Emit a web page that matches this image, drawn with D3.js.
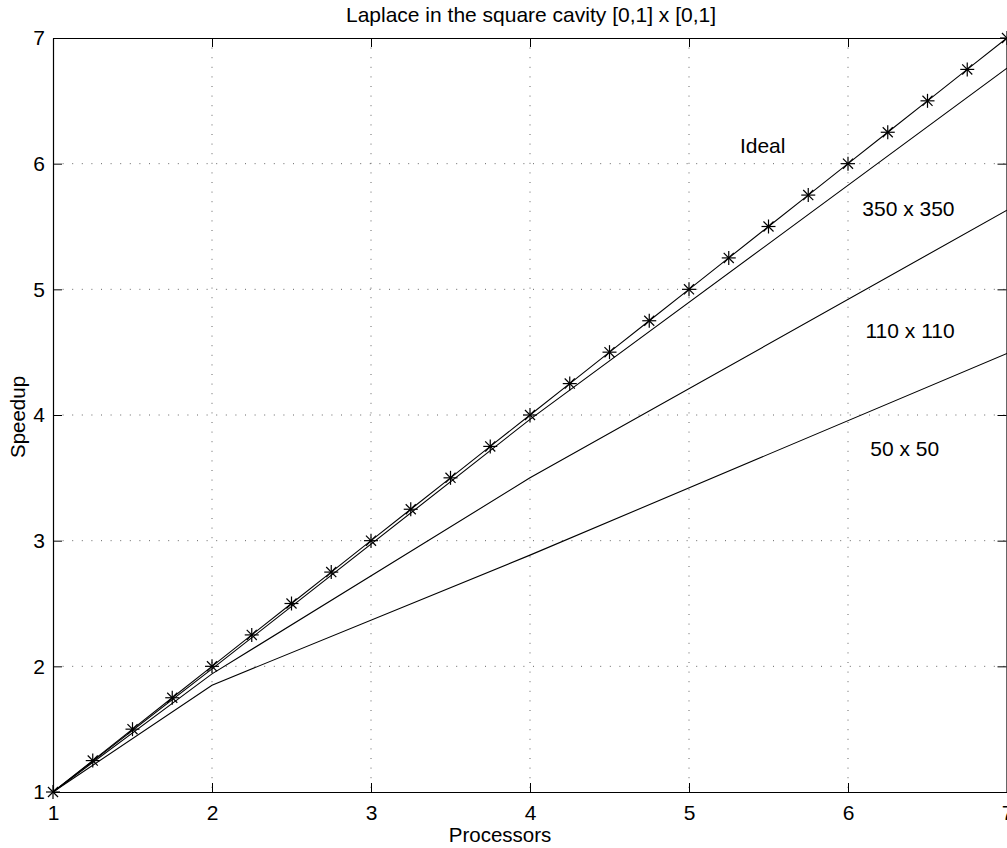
<!DOCTYPE html>
<html>
<head>
<meta charset="utf-8">
<script src="https://cdn.jsdelivr.net/npm/d3@7"></script>
<style>
  html, body { margin: 0; padding: 0; background: #fff; }
  svg text { font-family: "Liberation Sans", Arial, Helvetica, sans-serif; fill: #000; }
</style>
</head>
<body>
<svg id="chart" width="1007" height="848"></svg>
<script>
// ---- data ----
const title = "Laplace in the square cavity [0,1] x [0,1]";
const xLabel = "Processors";
const yLabel = "Speedup";
const xTicks = [1, 2, 3, 4, 5, 6, 7];
const yTicks = [1, 2, 3, 4, 5, 6, 7];

const idealX = [1, 1.25, 1.5, 1.75, 2, 2.25, 2.5, 2.75, 3, 3.25, 3.5, 3.75, 4, 4.25, 4.5, 4.75, 5, 5.25, 5.5, 5.75, 6, 6.25, 6.5, 6.75, 7];
const idealY = [1, 1.25, 1.5, 1.75, 2, 2.25, 2.5, 2.75, 3, 3.25, 3.5, 3.75, 4, 4.25, 4.5, 4.75, 5, 5.25, 5.5, 5.75, 6, 6.25, 6.5, 6.75, 7];

const procs = [1, 2, 4, 7];
const speed350 = [1, 1.98, 3.965, 6.76];
const speed110 = [1, 1.94, 3.50, 5.63];
const speed50  = [1, 1.85, 2.885, 4.49];

const annotLabels = ["Ideal", "350 x 350", "110 x 110", "50 x 50"];
const annotX = [5.32, 6.09, 6.11, 6.14];
const annotY = [6.085, 5.58, 4.61, 3.67];

// ---- layout ----
const svg = d3.select("#chart");
const pL = 53, pR = 1007, pT = 38, pB = 792;
const x = d3.scaleLinear().domain([1, 7]).range([pL, pR]);
const y = d3.scaleLinear().domain([1, 7]).range([pB, pT]);
const fs = 21;

// grid
const grid = svg.append("g");
xTicks.filter(t => t > 1 && t < 7).forEach(t => {
  grid.append("line").attr("x1", x(t)).attr("x2", x(t)).attr("y1", pT).attr("y2", pB)
    .attr("stroke", "#666").attr("stroke-width", 1).attr("stroke-dasharray", "1,8.6");
});
yTicks.filter(t => t > 1 && t < 7).forEach(t => {
  grid.append("line").attr("x1", pL).attr("x2", pR).attr("y1", y(t)).attr("y2", y(t))
    .attr("stroke", "#666").attr("stroke-width", 1).attr("stroke-dasharray", "1,8.6");
});

// axes (bottom/left with labels, top/right ticks only), inward ticks
const tl = 9;
const axB = svg.append("g").attr("transform", `translate(0,${pB})`)
  .call(d3.axisBottom(x).tickValues(xTicks).tickFormat(d3.format("d")).tickSizeInner(-tl).tickSizeOuter(0).tickPadding(13));
const axL = svg.append("g").attr("transform", `translate(${pL},0)`)
  .call(d3.axisLeft(y).tickValues(yTicks).tickFormat(d3.format("d")).tickSizeInner(-tl).tickSizeOuter(0).tickPadding(8));
const axT = svg.append("g").attr("transform", `translate(0,${pT})`)
  .call(d3.axisTop(x).tickValues(xTicks).tickFormat("").tickSizeInner(-tl).tickSizeOuter(0));
const axR = svg.append("g").attr("transform", `translate(${pR - 0.5},0)`)
  .call(d3.axisRight(y).tickValues(yTicks).tickFormat("").tickSizeInner(-tl).tickSizeOuter(0));
[axB, axL, axT, axR].forEach(a => {
  a.selectAll("path").attr("stroke", "#000").attr("stroke-width", 1.2);
  a.selectAll("line").attr("stroke", "#000");
  a.selectAll("text").attr("font-size", fs).attr("font-family", "Liberation Sans, Arial, sans-serif").attr("fill", "#000");
});

// series lines
const line = d3.line().x(d => x(d[0])).y(d => y(d[1]));
const lines = svg.append("g").attr("fill", "none").attr("stroke", "#000").attr("stroke-width", 1.1);
[speed350, speed110, speed50].forEach(s => {
  lines.append("path").attr("d", line(procs.map((p, i) => [p, s[i]])));
});
lines.append("path").attr("d", line(idealX.map((p, i) => [p, idealY[i]])));

// asterisk markers
const r = 7, rd = r * 0.72;
const mk = svg.append("g").attr("stroke", "#000").attr("stroke-width", 1.2);
idealX.forEach((p, i) => {
  const cx = x(p), cy = y(idealY[i]);
  mk.append("line").attr("x1", cx - r).attr("x2", cx + r).attr("y1", cy).attr("y2", cy);
  mk.append("line").attr("x1", cx).attr("x2", cx).attr("y1", cy - r).attr("y2", cy + r);
  mk.append("line").attr("x1", cx - rd).attr("x2", cx + rd).attr("y1", cy - rd).attr("y2", cy + rd);
  mk.append("line").attr("x1", cx - rd).attr("x2", cx + rd).attr("y1", cy + rd).attr("y2", cy - rd);
});

// annotations
annotLabels.forEach((t, i) => {
  svg.append("text").attr("x", x(annotX[i])).attr("y", y(annotY[i])).attr("font-size", fs).text(t);
});

// title and axis labels
svg.append("text").attr("x", 531).attr("y", 22).attr("text-anchor", "middle")
  .attr("font-size", fs).text(title);
svg.append("text").attr("x", 500).attr("y", 842).attr("text-anchor", "middle")
  .attr("font-size", fs - 0.5).text(xLabel);
svg.append("text").attr("transform", `translate(25,417) rotate(-90)`)
  .attr("text-anchor", "middle").attr("font-size", fs - 0.5).text(yLabel);
</script>
</body>
</html>
